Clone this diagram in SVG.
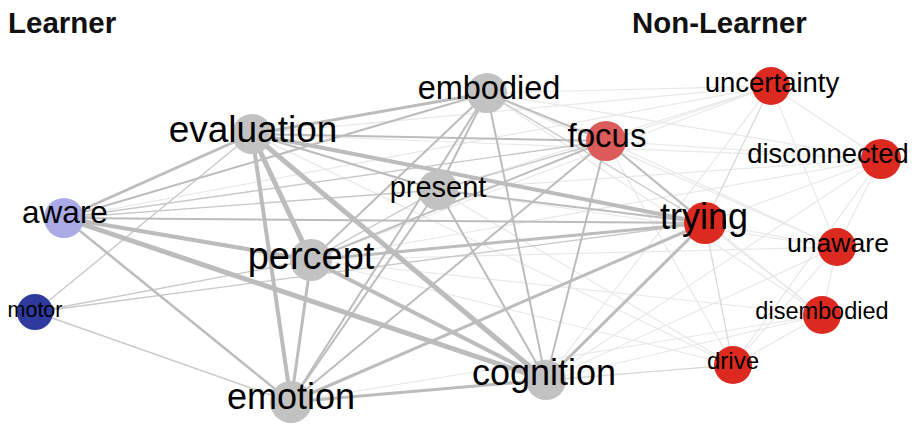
<svg xmlns="http://www.w3.org/2000/svg" width="914" height="424" viewBox="0 0 914 424">
<style>
.e{stroke:#bcbcbc;fill:none;stroke-linecap:round}
.w5{stroke-width:5}
.w4{stroke-width:4}
.w3{stroke-width:3}
.w25{stroke-width:2.5}
.w2{stroke-width:2}
.w15{stroke-width:1.4;stroke:#c8c8c8}
.f{stroke:#e8e8e8;stroke-width:1.2}
.f2{stroke:#d6d6d6;stroke-width:1.2}
.g{fill:#c2c2c2}
.r{fill:#dd2a20}
text{font-family:"Liberation Sans",Arial,sans-serif;fill:#000;text-anchor:middle}
.t{font-weight:bold;text-anchor:start;fill:#111}
</style>
<rect width="914" height="424" fill="#fff"/>
<text class="t" x="8" y="33" font-size="29.5">Learner</text>
<text class="t" x="632" y="33" font-size="29.4">Non-Learner</text>
<g id="connectors">
<line class="e f" x1="771" y1="86" x2="881" y2="159"/>
<line class="e f" x1="771" y1="86" x2="837" y2="247"/>
<line class="e f" x1="771" y1="86" x2="606" y2="141"/>
<line class="e f" x1="771" y1="86" x2="487" y2="93"/>
<line class="e f" x1="771" y1="86" x2="252" y2="134"/>
<line class="e f" x1="771" y1="86" x2="438" y2="190"/>
<line class="e f" x1="771" y1="86" x2="64" y2="218"/>
<line class="e f" x1="771" y1="86" x2="546" y2="380"/>
<line class="e f" x1="771" y1="86" x2="311" y2="260"/>
<line class="e f" x1="881" y1="159" x2="705" y2="223"/>
<line class="e f" x1="881" y1="159" x2="837" y2="247"/>
<line class="e f" x1="881" y1="159" x2="606" y2="141"/>
<line class="e f" x1="881" y1="159" x2="438" y2="190"/>
<line class="e f" x1="881" y1="159" x2="252" y2="134"/>
<line class="e f" x1="881" y1="159" x2="311" y2="260"/>
<line class="e f" x1="881" y1="159" x2="546" y2="380"/>
<line class="e f" x1="881" y1="159" x2="733" y2="365"/>
<line class="e f" x1="881" y1="159" x2="487" y2="93"/>
<line class="e f" x1="837" y1="247" x2="705" y2="223"/>
<line class="e f" x1="837" y1="247" x2="822" y2="315"/>
<line class="e f" x1="837" y1="247" x2="733" y2="365"/>
<line class="e f" x1="837" y1="247" x2="606" y2="141"/>
<line class="e f" x1="837" y1="247" x2="438" y2="190"/>
<line class="e f" x1="837" y1="247" x2="311" y2="260"/>
<line class="e f" x1="837" y1="247" x2="546" y2="380"/>
<line class="e f" x1="837" y1="247" x2="487" y2="93"/>
<line class="e f" x1="822" y1="315" x2="705" y2="223"/>
<line class="e f" x1="822" y1="315" x2="733" y2="365"/>
<line class="e f" x1="822" y1="315" x2="546" y2="380"/>
<line class="e f" x1="822" y1="315" x2="311" y2="260"/>
<line class="e f" x1="822" y1="315" x2="606" y2="141"/>
<line class="e f" x1="822" y1="315" x2="291" y2="402"/>
<line class="e f" x1="822" y1="315" x2="487" y2="93"/>
<line class="e f" x1="733" y1="365" x2="606" y2="141"/>
<line class="e f" x1="733" y1="365" x2="311" y2="260"/>
<line class="e f" x1="733" y1="365" x2="291" y2="402"/>
<line class="e f" x1="733" y1="365" x2="438" y2="190"/>
<line class="e f" x1="733" y1="365" x2="252" y2="134"/>
<line class="e f2" x1="733" y1="365" x2="705" y2="223"/>
<line class="e f2" x1="733" y1="365" x2="546" y2="380"/>
<line class="e f2" x1="771" y1="86" x2="705" y2="223"/>
<line class="e w15" x1="35" y1="312" x2="311" y2="260"/>
<line class="e w15" x1="35" y1="312" x2="705" y2="223"/>
<line class="e w15" x1="35" y1="312" x2="291" y2="402"/>
<line class="e w15" x1="35" y1="312" x2="252" y2="134"/>
<line class="e w15" x1="438" y1="190" x2="311" y2="260"/>
<line class="e w15" x1="438" y1="190" x2="606" y2="141"/>
<line class="e w15" x1="487" y1="93" x2="705" y2="223"/>
<line class="e w15" x1="64" y1="218" x2="438" y2="190"/>
<line class="e w15" x1="64" y1="218" x2="606" y2="141"/>
<line class="e w2" x1="252" y1="134" x2="606" y2="141"/>
<line class="e w2" x1="252" y1="134" x2="438" y2="190"/>
<line class="e w2" x1="487" y1="93" x2="606" y2="141"/>
<line class="e w2" x1="487" y1="93" x2="546" y2="380"/>
<line class="e w2" x1="487" y1="93" x2="291" y2="402"/>
<line class="e w2" x1="487" y1="93" x2="311" y2="260"/>
<line class="e w2" x1="487" y1="93" x2="438" y2="190"/>
<line class="e w2" x1="487" y1="93" x2="64" y2="218"/>
<line class="e w2" x1="606" y1="141" x2="705" y2="223"/>
<line class="e w2" x1="606" y1="141" x2="546" y2="380"/>
<line class="e w2" x1="606" y1="141" x2="311" y2="260"/>
<line class="e w2" x1="606" y1="141" x2="291" y2="402"/>
<line class="e w2" x1="64" y1="218" x2="705" y2="223"/>
<line class="e w2" x1="438" y1="190" x2="705" y2="223"/>
<line class="e w2" x1="438" y1="190" x2="546" y2="380"/>
<line class="e w2" x1="438" y1="190" x2="291" y2="402"/>
<line class="e w25" x1="64" y1="218" x2="291" y2="402"/>
<line class="e w3" x1="252" y1="134" x2="64" y2="218"/>
<line class="e w3" x1="252" y1="134" x2="487" y2="93"/>
<line class="e w3" x1="311" y1="260" x2="705" y2="223"/>
<line class="e w3" x1="291" y1="402" x2="546" y2="380"/>
<line class="e w3" x1="291" y1="402" x2="311" y2="260"/>
<line class="e w3" x1="546" y1="380" x2="705" y2="223"/>
<line class="e w3" x1="291" y1="402" x2="705" y2="223"/>
<line class="e w4" x1="252" y1="134" x2="291" y2="402"/>
<line class="e w4" x1="252" y1="134" x2="705" y2="223"/>
<line class="e w4" x1="64" y1="218" x2="311" y2="260"/>
<line class="e w4" x1="311" y1="260" x2="546" y2="380"/>
<line class="e w5" x1="252" y1="134" x2="311" y2="260"/>
<line class="e w5" x1="252" y1="134" x2="546" y2="380"/>
<line class="e w5" x1="64" y1="218" x2="546" y2="380"/>
</g>
<g id="node-evaluation"><circle class="g" cx="252" cy="134" r="20"/><text x="253" y="142" font-size="37">evaluation</text></g>
<g id="node-embodied"><circle class="g" cx="487" cy="93" r="20"/><text x="489" y="99" font-size="32.5">embodied</text></g>
<g id="node-present"><circle class="g" cx="438" cy="190" r="20"/><text x="438" y="197" font-size="29">present</text></g>
<g id="node-focus"><circle cx="606" cy="141" r="20" fill="#dc5b5b"/><text x="607" y="147" font-size="33">focus</text></g>
<g id="node-trying"><circle class="r" cx="705" cy="223" r="21"/><text x="704" y="229" font-size="36">trying</text></g>
<g id="node-uncertainty"><circle class="r" cx="771" cy="86" r="19"/><text x="772" y="92" font-size="27.5">uncertainty</text></g>
<g id="node-disconnected"><circle class="r" cx="881" cy="159" r="20"/><text x="828" y="163" font-size="27.4">disconnected</text></g>
<g id="node-unaware"><circle class="r" cx="837" cy="247" r="19"/><text x="838" y="252" font-size="26.6">unaware</text></g>
<g id="node-disembodied"><circle class="r" cx="822" cy="315" r="19"/><text x="822" y="319" font-size="23.5">disembodied</text></g>
<g id="node-drive"><circle class="r" cx="733" cy="365" r="19"/><text x="733" y="369" font-size="24">drive</text></g>
<g id="node-cognition"><circle class="g" cx="546" cy="380" r="20"/><text x="544" y="385" font-size="36">cognition</text></g>
<g id="node-emotion"><circle class="g" cx="291" cy="402" r="21"/><text x="291" y="409" font-size="36">emotion</text></g>
<g id="node-percept"><circle class="g" cx="311" cy="260" r="21"/><text x="311" y="269" font-size="38">percept</text></g>
<g id="node-motor"><circle cx="35" cy="312" r="18" fill="#2e3a9e"/><text x="35" y="317" font-size="21.5">motor</text></g>
<g id="node-aware"><circle cx="64" cy="218" r="20" fill="#aaaae6"/><text x="65" y="223" font-size="31.5">aware</text></g>
</svg>
